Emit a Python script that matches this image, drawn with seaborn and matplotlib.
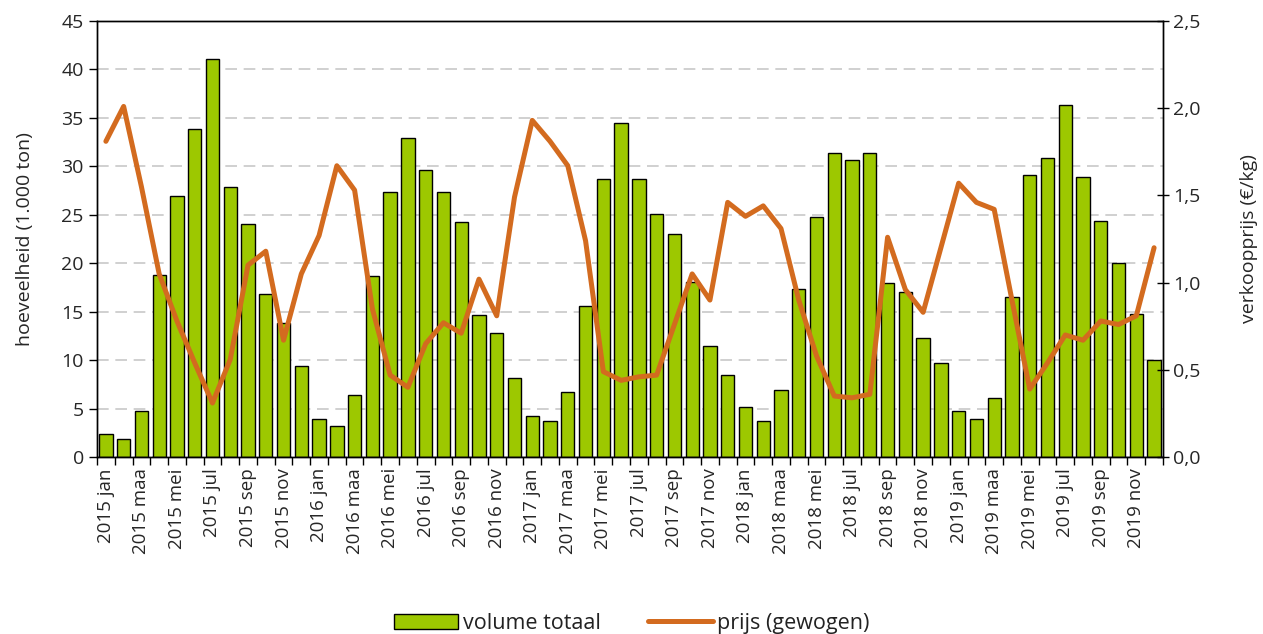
import numpy as np
import pandas as pd
import seaborn as sns
import matplotlib.pyplot as plt
from matplotlib.ticker import FixedLocator, FuncFormatter

# monthly data 2015 jan - 2019 dec
years = ["2015", "2016", "2017", "2018", "2019"]
month_names = ["jan", "feb", "maa", "apr", "mei", "jun",
               "jul", "aug", "sep", "okt", "nov", "dec"]
months = [y + " " + m for y in years for m in month_names]

volume = [2.4, 1.9, 4.8, 18.8, 26.9, 33.9, 41.1, 27.9, 24.1, 16.8, 13.8, 9.4,
          3.9, 3.2, 6.4, 18.7, 27.3, 32.9, 29.6, 27.3, 24.3, 14.7, 12.8, 8.2,
          4.2, 3.75, 6.7, 15.6, 28.7, 34.5, 28.7, 25.1, 23.0, 18.1, 11.5, 8.5,
          5.2, 3.75, 6.9, 17.3, 24.8, 31.4, 30.7, 31.4, 18.0, 17.0, 12.3, 9.7,
          4.75, 3.9, 6.1, 16.5, 29.1, 30.9, 36.3, 28.9, 24.4, 20.0, 14.8, 10.0]

prijs = [1.81, 2.01, 1.55, 1.05, 0.78, 0.54, 0.31, 0.56, 1.10, 1.18, 0.67, 1.05,
         1.27, 1.67, 1.53, 0.85, 0.47, 0.40, 0.65, 0.77, 0.71, 1.02, 0.81, 1.49,
         1.93, 1.81, 1.67, 1.24, 0.49, 0.44, 0.46, 0.47, 0.76, 1.05, 0.90, 1.46,
         1.38, 1.44, 1.31, 0.90, 0.58, 0.35, 0.34, 0.36, 1.26, 0.96, 0.83, 1.20,
         1.57, 1.46, 1.42, 0.90, 0.39, 0.54, 0.70, 0.67, 0.78, 0.76, 0.81, 1.20]

df = pd.DataFrame({"maand": months, "volume": volume, "prijs": prijs})

sns.set_theme(style="white")
plt.rcParams["font.family"] = ["Open Sans", "DejaVu Sans"]
plt.rcParams["text.color"] = "#222222"

green = "#9dc800"
orange = "#d36b1f"

fig = plt.figure(figsize=(12.63, 6.34), dpi=100)
ax = fig.add_axes([0.0768, 0.279, 0.8440, 0.688])

sns.barplot(data=df, x="maand", y="volume", color=green, saturation=1,
            edgecolor="black", linewidth=1.0, width=0.75, ax=ax,
            label="volume totaal", zorder=2)

ax2 = ax.twinx()
sns.lineplot(data=df, x="maand", y="prijs", sort=False, color=orange,
             linewidth=3.6, ax=ax2, label="prijs (gewogen)")

n = len(months)
ax.set_xlim(-0.5, n - 0.5)
ax.set_ylim(0, 45)
ax2.set_ylim(0, 2.5)

ax.set_yticks(np.arange(0, 46, 5))
ax.yaxis.grid(True, color="#c8c8c8", linestyle=(0, (7, 4)), linewidth=1.2)
ax.set_axisbelow(True)

# labels on every other month, tick marks at category boundaries
ax.set_xticks(np.arange(0, n, 2))
ax.set_xticklabels(months[::2], rotation=90)
ax.xaxis.set_minor_locator(FixedLocator(np.arange(-0.5, n, 1)))
ax.tick_params(axis="x", which="major", length=0, labelsize=13.5, pad=8)
ax.tick_params(axis="x", which="minor", length=6, width=1, color="black",
               bottom=True)
ax.tick_params(axis="y", length=6, width=1, color="black", left=True,
               labelsize=14)
ax2.set_yticks(np.arange(0, 2.6, 0.5))
ax2.yaxis.set_major_formatter(FuncFormatter(lambda v, _: f"{v:.1f}".replace(".", ",")))
ax2.tick_params(axis="y", length=8, width=1, direction="inout", color="black",
                right=True, labelsize=14)

for a in (ax, ax2):
    for s in a.spines.values():
        s.set_color("black")
        s.set_linewidth(1.0)

ax.set_xlabel("")
ax.set_ylabel("hoeveelheid (1.000 ton)", fontsize=14, labelpad=20)
ax2.set_ylabel("verkoopprijs (€/kg)", fontsize=14, labelpad=28)

h1, l1 = ax.get_legend_handles_labels()
h2, l2 = ax2.get_legend_handles_labels()
for a in (ax, ax2):
    if a.get_legend() is not None:
        a.get_legend().remove()
fig.legend(h1 + h2, l1 + l2, loc="lower center", bbox_to_anchor=(0.5, -0.03),
           ncol=2, frameon=False, fontsize=15.5, handlelength=3.0,
           columnspacing=2.2, handletextpad=0.2)

fig.savefig("out.png", dpi=100)
